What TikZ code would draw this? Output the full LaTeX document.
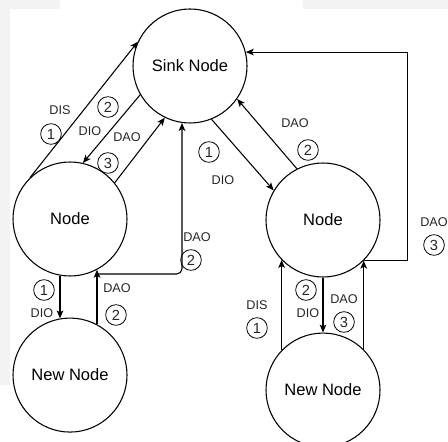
\documentclass[tikz,border=0pt]{standalone}
\usepackage{fontspec}
\setmainfont{Liberation Sans}
\usetikzlibrary{arrows.meta,positioning}
\definecolor{pagegray}{HTML}{F3F3F3}

\begin{document}
\begin{tikzpicture}[x=0.75pt, y=-0.75pt, >={Stealth[length=6pt,width=5pt,inset=1.5pt]},
		thick,main node/.style={circle,draw,minimum size=85.5pt,inner sep=0pt,font=\fontsize{12.4}{14}\selectfont},
		msg/.style={inner sep=0pt,text=black!85,font=\fontsize{9.5}{11}\selectfont},
		num/.style={circle,draw,line width=0.6pt,minimum size=15.5pt,inner sep=0pt,text=black!85,font=\fontsize{11}{12}\selectfont}]
		
		\useasboundingbox (0,0) rectangle (448,441);
		\fill[pagegray] (0,0) rectangle (60,9) (303,0) rectangle (448,9) (0,0) rectangle (10,385);
		
		\node[main node] (sink) at (190,66) {Sink Node};
		\node[main node] (nl) at (70,219) {Node};
		\node[main node] (nnl) [below=30.75pt of nl] {New Node};
		\node[main node] (nr) at (323,220) {Node};
		\node[main node] (nnr) [below=41.25pt of nr] {New Node};
		
		\coordinate (fork) at (97,274);
		
		\draw[->] (nl.134) -- (sink.155);
		\draw[->] (sink.210) -- (nl.77);
		\draw[->] (nl.39) -- (sink.244);
		\draw[->] (sink.292) -- (nr.149);
		\draw[->] (nr.117) -- (sink.-35);
		\draw[->] (nl.260) -- (nnl.100);
		\draw[->] (nnl.62) -- (nl.298);
		\draw[->,rounded corners=4pt] (fork) -| (sink.262);
		\draw[->] (nnr.136) -- (nr.224);
		\draw[->] (nr.south) -- (nnr.north);
		\draw[->] (nnr.45) -- (nr.-45);
		\draw[->] (nr.-45) -- ++(44,0) |- (sink.14);
		
		\node[msg] (dis-a) at (60,110) {DIS};
		\node[num] (n1-a) at (51,134) {1};
		\node[num] (n2-a) at (108,107) {2};
		\node[msg] (dio-a) at (90,131) {DIO};
		\node[msg] (dao-a) at (127,137) {DAO};
		\node[num] (n3-a) at (108,163) {3};
		\node[num] (n1-b) at (209,152) {1};
		\node[msg] (dio-b) at (223,180) {DIO};
		\node[msg] (dao-b) at (295,123) {DAO};
		\node[num] (n2-b) at (308,150) {2};
		\node[msg] (dao-c) at (434,222) {DAO};
		\node[num] (n3-c) at (434,245) {3};
		\node[num] (n1-d) at (44,290) {1};
		\node[msg] (dio-d) at (42,313) {DIO};
		\node[msg] (dao-d) at (117,288) {DAO};
		\node[num] (n2-d) at (116,315) {2};
		\node[msg] (dao-e) at (197,237) {DAO};
		\node[num] (n2-e) at (191,260) {2};
		\node[msg] (dis-f) at (257,305) {DIS};
		\node[num] (n1-f) at (257,328) {1};
		\node[num] (n2-g) at (306,290) {2};
		\node[msg] (dio-g) at (308,313) {DIO};
		\node[msg] (dao-h) at (344,299) {DAO};
		\node[num] (n3-h) at (344,322) {3};
		
	\end{tikzpicture}
\end{document}
